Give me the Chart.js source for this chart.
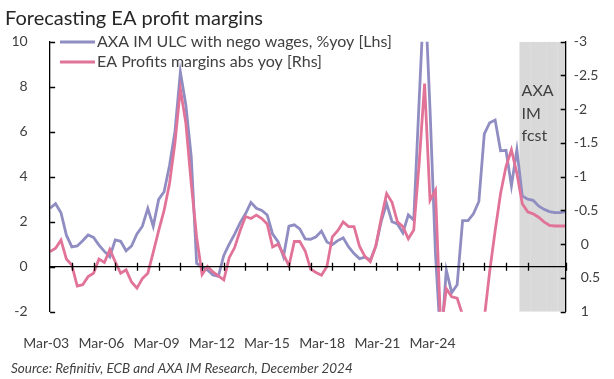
<!DOCTYPE html>
<html>
<head>
<meta charset="utf-8">
<script src="https://cdn.jsdelivr.net/npm/chart.js@4.4.1/dist/chart.umd.min.js"></script>
<style>
  html, body { margin: 0; padding: 0; background: #fff; }
  #wrap { width: 614px; height: 379px; }
</style>
</head>
<body>
<div id="wrap"><canvas id="chart" width="614" height="379"></canvas></div>
<script>
/* ── Data ── */
const title       = 'Forecasting EA profit margins';
const source      = 'Source: Refinitiv, ECB and AXA IM Research, December 2024';
const ulcLabel    = 'AXA IM ULC with nego wages, %yoy [Lhs]';
const marginLabel = 'EA Profits margins abs yoy [Rhs]';
const fcstText    = ['AXA', 'IM', 'fcst'];
const xLabels     = ['Mar-03', 'Mar-06', 'Mar-09', 'Mar-12', 'Mar-15', 'Mar-18', 'Mar-21', 'Mar-24'];

// quarters Q1 2003 .. Q4 2026
const quarters = [];
for (let y = 2003; y <= 2026; y++) {
  ['Mar', 'Jun', 'Sep', 'Dec'].forEach(m => quarters.push(m + '-' + String(y).slice(2)));
}
const fcstFrom = 'Dec-24';

// ULC with nego wages, %yoy (left axis)
const ulc = [
  2.6, 2.8, 2.4, 1.4, 0.88, 0.92, 1.15, 1.41, 1.3, 0.96, 0.68, 0.44,
  1.19, 1.13, 0.71, 0.92, 1.46, 1.8, 2.59, 1.8, 2.99, 3.33, 4.5, 6.0,
  8.65, 7.2, 4.9, 0.15, 0.0, -0.15, -0.37, -0.43, 0.5, 1.0, 1.45, 1.95,
  2.35, 2.86, 2.6, 2.5, 2.3, 1.45, 1.11, 0.45, 1.8, 1.86, 1.68, 1.24,
  1.22, 1.33, 1.58, 1.1, 0.98, 1.16, 1.28, 0.88, 0.58, 0.36, 0.42, 0.3,
  0.9, 2.0, 2.8, 2.0, 1.9, 1.5, 2.3, 2.07, 7.4, 12.6, 7.0, 0.6,
  -3.5, -0.15, -1.15, -0.8, 2.05, 2.05, 2.35, 2.9, 5.9, 6.4, 6.52, 5.15,
  5.17, 3.6, 5.2, 3.15, 3.0, 2.95, 2.7, 2.55, 2.45, 2.4, 2.4, 2.45
];

// EA profit margins, abs yoy (right axis, inverted)
const margins = [
  0.11, 0.06, -0.06, 0.22, 0.31, 0.62, 0.6, 0.48, 0.43, 0.22, 0.27, 0.08,
  0.26, 0.43, 0.38, 0.56, 0.65, 0.51, 0.43, 0.12, -0.2, -0.5, -0.9, -1.5,
  -2.3, -1.8, -0.9, -0.1, 0.45, 0.33, 0.41, 0.47, 0.53, 0.2, 0.05, -0.2,
  -0.41, -0.38, -0.43, -0.38, -0.3, 0.04, 0.0, 0.15, 0.32, -0.04, -0.04, 0.1,
  0.37, 0.42, 0.46, 0.33, -0.11, -0.2, -0.33, -0.26, -0.26, 0.03, 0.18, 0.26,
  0.03, -0.38, -0.75, -0.62, -0.33, -0.26, -0.08, -0.21, -1.2, -2.38, -0.65, -0.8,
  1.3, 0.66, 0.78, 0.8, 1.05, 1.5, 1.8, 1.7, 1.1, 0.4, -0.2, -0.75,
  -1.15, -1.4, -1.05, -0.6, -0.48, -0.45, -0.4, -0.33, -0.28, -0.27, -0.27, -0.27
];

const lhsMin = -2, lhsMax = 10;
const rhsMin = -3, rhsMax = 1;

/* ── Style ── */
const FONT   = 'Lato';
const PURPLE = '#8f8dc1';
const PINK   = '#e27398';
const SHADE  = '#d9d9d9';
const TEXT   = '#404040';

const pts = arr => arr.map((v, i) => ({ x: i, y: v }));
const fcstIdx = quarters.indexOf(fcstFrom);

/* ── Decorations: title, legend, source, fcst note, tick marks ── */
const decor = {
  id: 'decor',
  afterDatasetsDraw(chart) {
    const { ctx, chartArea: a, scales } = chart;
    ctx.save();
    ctx.strokeStyle = '#000';
    ctx.lineWidth = 1.3;
    ctx.beginPath();
    // x ticks cross the zero line
    const y0 = scales.y.getPixelForValue(0);
    scales.x.ticks.forEach(t => {
      if (t.value === 0) return;
      const px = Math.round(scales.x.getPixelForValue(t.value)) + 0.5;
      ctx.moveTo(px, y0 - 4); ctx.lineTo(px, y0 + 4);
    });
    // inside ticks on both value axes
    scales.y.ticks.forEach(t => {
      const py = Math.round(scales.y.getPixelForValue(t.value)) + 0.5;
      ctx.moveTo(a.left, py); ctx.lineTo(a.left + 5, py);
    });
    scales.y2.ticks.forEach(t => {
      const py = Math.round(scales.y2.getPixelForValue(t.value)) + 0.5;
      ctx.moveTo(a.right - 5, py); ctx.lineTo(a.right, py);
    });
    ctx.stroke();
    ctx.restore();
  },
  afterDraw(chart) {
    const { ctx, scales } = chart;
    ctx.save();

    ctx.fillStyle = '#262626';
    ctx.font = `20px ${FONT}`;
    ctx.textBaseline = 'alphabetic';
    ctx.fillText(title, 5, 25);

    // legend inside plot area
    ctx.font = `16px ${FONT}`;
    ctx.textBaseline = 'middle';
    chart.data.datasets.filter(d => d.type === 'line').forEach((d, k) => {
      const ly = 42 + k * 20;
      ctx.strokeStyle = d.borderColor;
      ctx.lineWidth = 3;
      ctx.beginPath(); ctx.moveTo(60, ly); ctx.lineTo(95, ly); ctx.stroke();
      ctx.fillStyle = TEXT;
      ctx.fillText(d.label, 97, ly);
    });

    // forecast note in the shaded area
    const fx = scales.x.getPixelForValue(fcstIdx - 0.5) + 2;
    ctx.font = `16px ${FONT}`;
    ctx.textBaseline = 'alphabetic';
    fcstText.forEach((s, k) => ctx.fillText(s, fx, 96 + k * 22.5));

    ctx.font = `italic 13.5px ${FONT}`;
    ctx.fillText(source, 11, 373);
    ctx.restore();
  }
};

new Chart(document.getElementById('chart'), {
  type: 'line',
  data: {
    datasets: [
      {
        type: 'line', label: ulcLabel, data: pts(ulc),
        xAxisID: 'x', yAxisID: 'y',
        borderColor: PURPLE, backgroundColor: PURPLE, borderWidth: 2.8,
        pointRadius: 0, tension: 0, clip: 0, order: 2,
      },
      {
        type: 'line', label: marginLabel, data: pts(margins),
        xAxisID: 'x', yAxisID: 'y2',
        borderColor: PINK, backgroundColor: PINK, borderWidth: 2.8,
        pointRadius: 0, tension: 0, clip: 0, order: 1,
      },
      {
        type: 'bar', label: 'fcst',
        data: quarters.slice(fcstIdx).map((q, k) => ({ x: fcstIdx + k, y: [lhsMin, lhsMax] })),
        xAxisID: 'x', yAxisID: 'y',
        backgroundColor: SHADE, borderWidth: 0,
        barPercentage: 1.05, categoryPercentage: 1, grouped: false, clip: 0, order: 3,
      },
    ],
  },
  options: {
    responsive: false,
    animation: false,
    events: [],
    layout: { padding: { top: 41.7, left: 0, right: 0, bottom: 0 } },
    plugins: { legend: { display: false }, tooltip: { enabled: false } },
    scales: {
      x: {
        type: 'linear', min: 0, max: quarters.length - 1, offset: false,
        position: { y: 0 },
        grid: { display: false, drawTicks: false },
        border: { display: true, color: '#000', width: 1.3, z: 1 },
        ticks: { display: false, stepSize: 4 },
      },
      xl: {
        type: 'linear', axis: 'x', position: 'bottom',
        min: 0, max: quarters.length - 1, offset: false,
        grid: { display: false, drawTicks: false },
        border: { display: false },
        afterBuildTicks: s => {
          // Excel spaces the date labels ~10.17 quarters apart, starting just left of the axis
          s.ticks = xLabels.map((_, k) => ({ value: -0.72 + k * 10.17 }));
        },
        afterFit: s => { s.height = 379 - 311.7; },
        ticks: {
          autoSkip: false, maxRotation: 0, padding: 23.5,
          color: TEXT, font: { family: FONT, size: 14 },
          callback: (v, i) => xLabels[i],
        },
      },
      y: {
        type: 'linear', position: 'left', min: lhsMin, max: lhsMax,
        grid: { display: false, drawTicks: false },
        border: { display: true, color: '#000', width: 1.3, z: 1 },
        afterFit: s => { s.width = 37.5; },
        ticks: { stepSize: 2, padding: 22.5, color: TEXT, font: { family: FONT, size: 14 } },
      },
      y2: {
        type: 'linear', axis: 'y', position: 'right', reverse: true, min: rhsMin, max: rhsMax,
        grid: { display: false, drawTicks: false },
        border: { display: true, color: '#000', width: 1.3, z: 1 },
        afterFit: s => { s.width = 614 - 565.7; },
        ticks: {
          stepSize: 0.5, padding: 8, color: TEXT, font: { family: FONT, size: 14 },
          // keep digits aligned: non-negative values get a leading space where the minus would sit
          callback: v => {
            const n = Math.round(v * 10) / 10;
            return (n < 0 ? '' : '\u2002') + String(n);
          },
        },
      },
    },
  },
  plugins: [decor],
});
</script>
</body>
</html>
